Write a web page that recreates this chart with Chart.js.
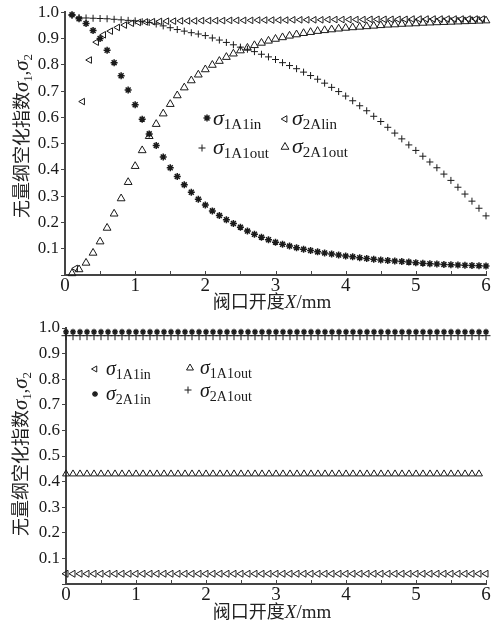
<!DOCTYPE html>
<html lang="zh-CN">
<head>
<meta charset="UTF-8">
<title>无量纲空化指数 - 阀口开度</title>
<script src="https://cdn.jsdelivr.net/npm/chart.js"></script>
<style>
  html, body { margin: 0; padding: 0; background: #fff; }
  .panel { position: absolute; left: 0; width: 500px; height: 311px; }
  #p1 { top: 0; }
  #p2 { top: 311px; }
</style>
</head>
<body>
<div class="panel" id="p1"><canvas id="topChart" width="500" height="311"></canvas></div>
<div class="panel" id="p2"><canvas id="bottomChart" width="500" height="311"></canvas></div>
<script>
// ---- data ----
const xMain = [0.1,0.2,0.3,0.4,0.5,0.6,0.7,0.8,0.9,1.0,
  1.1,1.2,1.3,1.4,1.5,1.6,1.7,1.8,1.9,2.0,
  2.1,2.2,2.3,2.4,2.5,2.6,2.7,2.8,2.9,3.0,
  3.1,3.2,3.3,3.4,3.5,3.6,3.7,3.8,3.9,4.0,
  4.1,4.2,4.3,4.4,4.5,4.6,4.7,4.8,4.9,5.0,
  5.1,5.2,5.3,5.4,5.5,5.6,5.7,5.8,5.9,6.0];

// the σ2Alin markers sit half a step to the right
const xLin = [0.15,0.25,0.35,0.45,0.55,0.65,0.75,0.85,0.95,1.05,
  1.15,1.25,1.35,1.45,1.55,1.65,1.75,1.85,1.95,2.05,
  2.15,2.25,2.35,2.45,2.55,2.65,2.75,2.85,2.95,3.05,
  3.15,3.25,3.35,3.45,3.55,3.65,3.75,3.85,3.95,4.05,
  4.15,4.25,4.35,4.45,4.55,4.65,4.75,4.85,4.95,5.05,
  5.15,5.25,5.35,5.45,5.55,5.65,5.75,5.85,5.95];

const xBottom = [0.0,0.1,0.2,0.3,0.4,0.5,0.6,0.7,0.8,0.9,1.0,
  1.1,1.2,1.3,1.4,1.5,1.6,1.7,1.8,1.9,2.0,
  2.1,2.2,2.3,2.4,2.5,2.6,2.7,2.8,2.9,3.0,
  3.1,3.2,3.3,3.4,3.5,3.6,3.7,3.8,3.9,4.0,
  4.1,4.2,4.3,4.4,4.5,4.6,4.7,4.8,4.9,5.0,
  5.1,5.2,5.3,5.4,5.5,5.6,5.7,5.8,5.9,6.0];

// top chart
const top1A1in = [0.990,0.975,0.957,0.930,0.900,0.855,0.808,0.758,0.704,0.648,
  0.593,0.537,0.493,0.449,0.408,0.375,0.343,0.315,0.288,0.266,
  0.244,0.226,0.210,0.196,0.182,0.167,0.155,0.144,0.134,0.125,
  0.117,0.110,0.104,0.098,0.093,0.088,0.084,0.080,0.076,0.072,
  0.069,0.066,0.063,0.060,0.057,0.055,0.053,0.051,0.049,0.047,
  0.045,0.043,0.042,0.040,0.039,0.038,0.037,0.036,0.035,0.034];

const top2Alin = [0.025,0.660,0.818,0.886,0.914,0.928,0.942,0.951,0.958,0.961,
  0.963,0.964,0.965,0.966,0.966,0.967,0.967,0.967,0.968,0.968,
  0.968,0.968,0.969,0.969,0.969,0.969,0.970,0.970,0.970,0.970,
  0.970,0.971,0.971,0.971,0.971,0.971,0.972,0.972,0.972,0.972,
  0.972,0.972,0.973,0.973,0.973,0.973,0.973,0.973,0.974,0.974,
  0.974,0.974,0.974,0.974,0.974,0.974,0.974,0.974,0.974];

const top1A1out = [0.988,0.980,0.978,0.977,0.976,0.975,0.973,0.971,0.969,0.967,
  0.964,0.961,0.955,0.948,0.941,0.934,0.928,0.922,0.917,0.911,
  0.902,0.894,0.885,0.876,0.867,0.859,0.850,0.840,0.830,0.820,
  0.808,0.797,0.785,0.772,0.759,0.745,0.730,0.714,0.698,0.681,
  0.663,0.644,0.625,0.604,0.584,0.562,0.540,0.518,0.495,0.474,
  0.452,0.430,0.408,0.384,0.360,0.334,0.308,0.281,0.254,0.225];

const top2A1out = [0.006,0.021,0.046,0.084,0.127,0.179,0.233,0.291,0.353,0.414,
  0.474,0.528,0.574,0.614,0.650,0.683,0.713,0.740,0.762,0.782,
  0.799,0.814,0.829,0.842,0.854,0.864,0.874,0.883,0.891,0.898,
  0.904,0.910,0.915,0.920,0.924,0.928,0.931,0.934,0.937,0.940,
  0.942,0.944,0.946,0.948,0.950,0.952,0.953,0.955,0.956,0.957,
  0.959,0.960,0.961,0.962,0.963,0.964,0.965,0.966,0.967,0.968];

// bottom chart (flat curves)
const bot1A1in = [0.04,0.04,0.04,0.04,0.04,0.04,0.04,0.04,0.04,0.04,0.04,
  0.04,0.04,0.04,0.04,0.04,0.04,0.04,0.04,0.04,0.04,
  0.04,0.04,0.04,0.04,0.04,0.04,0.04,0.04,0.04,0.04,
  0.04,0.04,0.04,0.04,0.04,0.04,0.04,0.04,0.04,0.04,
  0.04,0.04,0.04,0.04,0.04,0.04,0.04,0.04,0.04,0.04,
  0.04,0.04,0.04,0.04,0.04,0.04,0.04,0.04,0.04,0.04];

const bot1A1out = [0.43,0.43,0.43,0.43,0.43,0.43,0.43,0.43,0.43,0.43,
  0.43,0.43,0.43,0.43,0.43,0.43,0.43,0.43,0.43,0.43,
  0.43,0.43,0.43,0.43,0.43,0.43,0.43,0.43,0.43,0.43,
  0.43,0.43,0.43,0.43,0.43,0.43,0.43,0.43,0.43,0.43,
  0.43,0.43,0.43,0.43,0.43,0.43,0.43,0.43,0.43,0.43,
  0.43,0.43,0.43,0.43,0.43,0.43,0.43,0.43,0.43,0.43];

const bot2A1in = [0.985,0.985,0.985,0.985,0.985,0.985,0.985,0.985,0.985,0.985,0.985,
  0.985,0.985,0.985,0.985,0.985,0.985,0.985,0.985,0.985,0.985,
  0.985,0.985,0.985,0.985,0.985,0.985,0.985,0.985,0.985,0.985,
  0.985,0.985,0.985,0.985,0.985,0.985,0.985,0.985,0.985,0.985,
  0.985,0.985,0.985,0.985,0.985,0.985,0.985,0.985,0.985,0.985,
  0.985,0.985,0.985,0.985,0.985,0.985,0.985,0.985,0.985,0.985];

const bot2A1out = [0.970,0.970,0.970,0.970,0.970,0.970,0.970,0.970,0.970,0.970,0.970,
  0.970,0.970,0.970,0.970,0.970,0.970,0.970,0.970,0.970,0.970,
  0.970,0.970,0.970,0.970,0.970,0.970,0.970,0.970,0.970,0.970,
  0.970,0.970,0.970,0.970,0.970,0.970,0.970,0.970,0.970,0.970,
  0.970,0.970,0.970,0.970,0.970,0.970,0.970,0.970,0.970,0.970,
  0.970,0.970,0.970,0.970,0.970,0.970,0.970,0.970,0.970,0.970];

const topLegendSubs = ['1A1in', '2Alin', '1A1out', '2A1out'];
const bottomLegendSubs = ['1A1in', '1A1out', '2A1in', '2A1out'];
const xTitleRuns = ['阀口开度', 'X', '/mm'];
const yTitleRuns = ['无量纲空化指数', 'σ', '1', ',', 'σ', '2'];

// ---- styling ----
const SERIF = '"Liberation Serif", "Times New Roman", serif';
const CJK = '"Noto Sans CJK SC", sans-serif';
const INK = '#1a1a1a';
const AXIS = '#444';

function pts(xs, ys) {
  return ys.map((y, i) => ({ x: xs[i], y: y }));
}

function markers(label, xs, ys, style, radius, rotation, width) {
  return {
    label: label,
    data: pts(xs, ys),
    showLine: false,
    clip: false,
    pointStyle: style,
    pointRadius: radius,
    pointHoverRadius: radius,
    pointRotation: rotation,
    pointBorderColor: INK,
    pointBackgroundColor: 'rgba(255,255,255,0)',
    pointBorderWidth: width,
    borderColor: INK,
    backgroundColor: INK
  };
}

function axes(yWidth, xHeight) {
  return {
    x: {
      type: 'linear', min: 0, max: 6,
      ticks: { stepSize: 1, color: INK, font: { family: SERIF, size: 19 }, padding: 0, maxRotation: 0 },
      grid: { display: true, drawOnChartArea: false, drawTicks: false },
      border: { display: true, color: AXIS, width: 2 },
      afterFit: s => { s.height = xHeight; }
    },
    y: {
      type: 'linear', min: 0, max: 1,
      ticks: { stepSize: 0.1, color: INK, font: { family: SERIF, size: 17 }, padding: 2,
        callback: v => (Math.abs(v) < 1e-9 ? '' : v.toFixed(1)) },
      grid: { display: true, drawOnChartArea: false, drawTicks: true, tickLength: 4, color: AXIS },
      border: { display: true, color: AXIS, width: 2 },
      afterFit: s => { s.width = yWidth; }
    }
  };
}

// mixed-font text runs
function drawRuns(ctx, runs, x, y, center) {
  let w = 0;
  runs.forEach(r => { ctx.font = r.font; w += ctx.measureText(r.t).width; });
  let cx = center ? x - w / 2 : x;
  runs.forEach(r => {
    ctx.font = r.font;
    ctx.fillText(r.t, cx, y + (r.dy || 0));
    cx += ctx.measureText(r.t).width;
  });
}

function drawMarker(ctx, style, x, y, r, rot, lw) {
  ctx.save();
  ctx.strokeStyle = INK;
  ctx.lineWidth = lw;
  ctx.beginPath();
  if (style === 'triangle') {
    let a = rot * Math.PI / 180;
    for (let k = 0; k < 3; k++) {
      const px = x + Math.sin(a) * r, py = y - Math.cos(a) * r;
      if (k === 0) ctx.moveTo(px, py); else ctx.lineTo(px, py);
      a += 2 * Math.PI / 3;
    }
    ctx.closePath();
  } else {
    ctx.moveTo(x - r, y); ctx.lineTo(x + r, y);
    ctx.moveTo(x, y - r); ctx.lineTo(x, y + r);
    if (style === 'star') {
      const d = r * Math.SQRT1_2;
      ctx.moveTo(x - d, y - d); ctx.lineTo(x + d, y + d);
      ctx.moveTo(x - d, y + d); ctx.lineTo(x + d, y - d);
    }
  }
  ctx.stroke();
  ctx.restore();
}

function decorPlugin(cfg) {
  return {
    id: 'decor',
    afterDraw(chart) {
      const ctx = chart.ctx;
      const xs = chart.scales.x, area = chart.chartArea;
      ctx.save();
      // small inward ticks on the x axis every 0.5
      ctx.strokeStyle = AXIS;
      ctx.lineWidth = 1;
      for (let v = 0.5; v <= 6; v += 0.5) {
        const px = Math.round(xs.getPixelForValue(v)) + 0.5;
        ctx.beginPath();
        ctx.moveTo(px, area.bottom);
        ctx.lineTo(px, area.bottom - 4);
        ctx.stroke();
      }
      ctx.fillStyle = '#222';
      ctx.textBaseline = 'alphabetic';
      // y title (rotated)
      ctx.save();
      ctx.translate(cfg.yTitle.x, cfg.yTitle.y);
      ctx.rotate(-Math.PI / 2);
      drawRuns(ctx, [
        { t: yTitleRuns[0], font: '18px ' + CJK },
        { t: yTitleRuns[1], font: 'italic 21px ' + SERIF },
        { t: yTitleRuns[2], font: '13px ' + SERIF, dy: 4 },
        { t: yTitleRuns[3], font: '18px ' + SERIF },
        { t: yTitleRuns[4], font: 'italic 21px ' + SERIF },
        { t: yTitleRuns[5], font: '13px ' + SERIF, dy: 4 }
      ], 0, 7, true);
      ctx.restore();
      // x title
      drawRuns(ctx, [
        { t: xTitleRuns[0], font: '18px ' + CJK },
        { t: xTitleRuns[1], font: 'italic 19px ' + SERIF },
        { t: xTitleRuns[2], font: '19px ' + SERIF }
      ], cfg.xTitle.x, cfg.xTitle.y, true);
      // legend
      ctx.fillStyle = INK;
      cfg.legend.forEach(it => {
        drawMarker(ctx, it.style, it.mx, it.my, it.r, it.rot, it.lw);
        drawRuns(ctx, [
          { t: 'σ', font: 'italic ' + cfg.sigmaSize + 'px ' + SERIF },
          { t: it.sub, font: cfg.subSize + 'px ' + SERIF, dy: 4 }
        ], it.tx, it.ty, false);
      });
      ctx.restore();
    }
  };
}

// ---- top chart ----
new Chart(document.getElementById('topChart'), {
  type: 'scatter',
  data: {
    datasets: [
      markers('σ1A1in', xMain, top1A1in, 'star', 3.5, 0, 1.5),
      markers('σ2Alin', xLin, top2Alin, 'triangle', 3.8, -90, 1),
      markers('σ1A1out', xMain, top1A1out, 'cross', 3.5, 0, 1),
      markers('σ2A1out', xMain, top2A1out, 'triangle', 4.5, 0, 1)
    ]
  },
  options: {
    responsive: false,
    animation: false,
    events: [],
    layout: { padding: { left: 0, right: 14, top: 8, bottom: 0 } },
    plugins: { legend: { display: false }, tooltip: { enabled: false } },
    scales: axes(65, 36)
  },
  plugins: [decorPlugin({
    yTitle: { x: 21, y: 136 },
    xTitle: { x: 272, y: 308 },
    sigmaSize: 22, subSize: 15,
    legend: [
      { style: 'star', mx: 207, my: 118, r: 3.5, rot: 0, lw: 1.5, sub: topLegendSubs[0], tx: 213, ty: 125 },
      { style: 'triangle', mx: 285, my: 119, r: 3.8, rot: -90, lw: 1, sub: topLegendSubs[1], tx: 292, ty: 125 },
      { style: 'cross', mx: 202, my: 148, r: 3.5, rot: 0, lw: 1, sub: topLegendSubs[2], tx: 213, ty: 154 },
      { style: 'triangle', mx: 285, my: 147, r: 4.5, rot: 0, lw: 1, sub: topLegendSubs[3], tx: 292, ty: 153 }
    ]
  })]
});

// ---- bottom chart ----
new Chart(document.getElementById('bottomChart'), {
  type: 'scatter',
  data: {
    datasets: [
      markers('σ1A1in', xBottom, bot1A1in, 'triangle', 4, -90, 1),
      markers('σ1A1out', xBottom, bot1A1out, 'triangle', 4, 0, 1),
      markers('σ2A1in', xBottom, bot2A1in, 'star', 3, 0, 1.3),
      markers('σ2A1out', xBottom, bot2A1out, 'cross', 4.5, 0, 1)
    ]
  },
  options: {
    responsive: false,
    animation: false,
    events: [],
    layout: { padding: { left: 0, right: 14, top: 17, bottom: 0 } },
    plugins: { legend: { display: false }, tooltip: { enabled: false } },
    scales: axes(66, 38)
  },
  plugins: [decorPlugin({
    yTitle: { x: 20, y: 143 },
    xTitle: { x: 272, y: 307 },
    sigmaSize: 20, subSize: 14,
    legend: [
      { style: 'triangle', mx: 95, my: 58, r: 3.5, rot: -90, lw: 1, sub: bottomLegendSubs[0], tx: 106, ty: 64 },
      { style: 'triangle', mx: 190, my: 57, r: 4, rot: 0, lw: 1, sub: bottomLegendSubs[1], tx: 200, ty: 63 },
      { style: 'star', mx: 95, my: 83, r: 3, rot: 0, lw: 1.3, sub: bottomLegendSubs[2], tx: 106, ty: 89 },
      { style: 'cross', mx: 188, my: 79, r: 3.5, rot: 0, lw: 1, sub: bottomLegendSubs[3], tx: 200, ty: 86 }
    ]
  })]
});
</script>
</body>
</html>
